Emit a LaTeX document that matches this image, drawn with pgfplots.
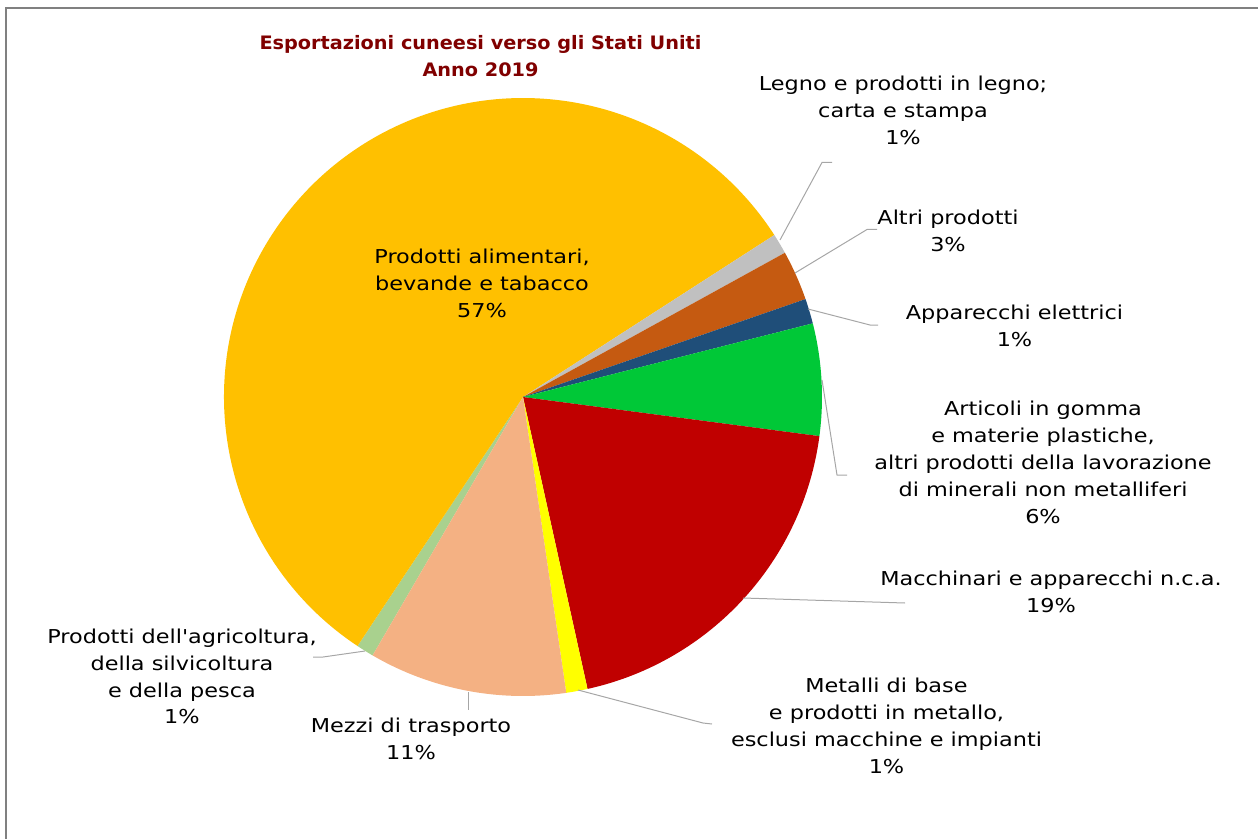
\documentclass[border=0pt]{standalone}
\usepackage{fontspec}
\setmainfont{DejaVu Sans}[Ligatures=TeXOff, FakeStretch=1.17]
\newfontfamily\titlefont{DejaVu Sans}[Ligatures=TeXOff, FakeStretch=1.04]
\usepackage{pgfplots}
\pgfplotsset{compat=1.18}

\definecolor{agri}{HTML}{A9D18E}
\definecolor{alim}{HTML}{FFC000}
\definecolor{legno}{HTML}{C0C0C0}
\definecolor{altri}{HTML}{C55A11}
\definecolor{appar}{HTML}{1F4E79}
\definecolor{artic}{HTML}{00C837}
\definecolor{macch}{HTML}{C00000}
\definecolor{metal}{HTML}{FFFF00}
\definecolor{mezzi}{HTML}{F4B183}
\definecolor{titolo}{HTML}{800000}
\definecolor{leader}{HTML}{A6A6A6}

\newcommand\lbl{\fontsize{9.6}{13.5}\selectfont}

\begin{document}
\begin{tikzpicture}
\begin{axis}[
  width=629bp, height=419.5bp, scale only axis,
  xmin=0, xmax=1258, ymin=0, ymax=839, y dir=reverse,
  hide axis, clip=false,
]
% quote percentuali, in senso orario a partire dall'agricoltura
\pgfplotsextra{
  \xdef\cur{-120.2}
  \foreach \v/\c in {0.95/agri, 56.55/alim, 1.10/legno, 2.70/altri, 1.35/appar,
                     6.05/artic, 19.45/macch, 1.15/metal, 10.70/mezzi} {
    \pgfmathsetmacro\nxt{\cur-3.6*\v}
    \fill[\c] (axis cs:523,397) -- ++(\cur:149.5bp)
      arc[start angle=\cur, end angle=\nxt, radius=149.5bp] -- cycle;
    \xdef\cur{\nxt}
  }
}

% cornice
\draw[gray, line width=1bp] (axis cs:6,839) -- (axis cs:6,8) -- (axis cs:1258,8);

% titolo
\node[text=titolo, font=\titlefont\bfseries\fontsize{9.3}{13.5}\selectfont, align=center]
  at (axis cs:480.5,56.5) {Esportazioni cuneesi verso gli Stati Uniti\\Anno 2019};

% linee guida
\begin{scope}[leader, line width=0.5bp]
\draw (axis cs:780,240) -- (axis cs:822,162.5) -- (axis cs:832,162.5);
\draw (axis cs:795,273) -- (axis cs:867,229.5) -- (axis cs:877,229.5);
\draw (axis cs:808,309) -- (axis cs:870,325) -- (axis cs:878,325);
\draw (axis cs:822,380) -- (axis cs:837,475) -- (axis cs:847,475);
\draw (axis cs:743,598) -- (axis cs:905,603);
\draw (axis cs:578,690) -- (axis cs:703,723) -- (axis cs:712,724);
\draw (axis cs:468,692) -- (axis cs:468,710);
\draw (axis cs:365,651) -- (axis cs:323,657) -- (axis cs:313,657);
\end{scope}

% etichette
\begin{scope}[every node/.style={align=center, font=\lbl, inner sep=0pt}]
\node at (axis cs:482,283.5) {Prodotti alimentari,\\bevande e tabacco\\57\%};
\node at (axis cs:903,110.5) {Legno e prodotti in legno;\\carta e stampa\\1\%};
\node at (axis cs:948,230.5) {Altri prodotti\\3\%};
\node at (axis cs:1014.5,325.5) {Apparecchi elettrici\\1\%};
\node at (axis cs:1043,462.5) {Articoli in gomma\\e materie plastiche,\\altri prodotti della lavorazione\\di minerali non metalliferi\\6\%};
\node at (axis cs:1051,591.5) {Macchinari e apparecchi n.c.a.\\19\%};
\node at (axis cs:886.5,726) {Metalli di base\\e prodotti in metallo,\\esclusi macchine e impianti\\1\%};
\node at (axis cs:411,738.5) {Mezzi di trasporto\\11\%};
\node at (axis cs:182,676.5) {Prodotti dell'agricoltura,\\della silvicoltura\\e della pesca\\1\%};
\end{scope}
\end{axis}
\pgfresetboundingbox
\path (current axis.south west) rectangle (current axis.north east);
\end{tikzpicture}
\end{document}
